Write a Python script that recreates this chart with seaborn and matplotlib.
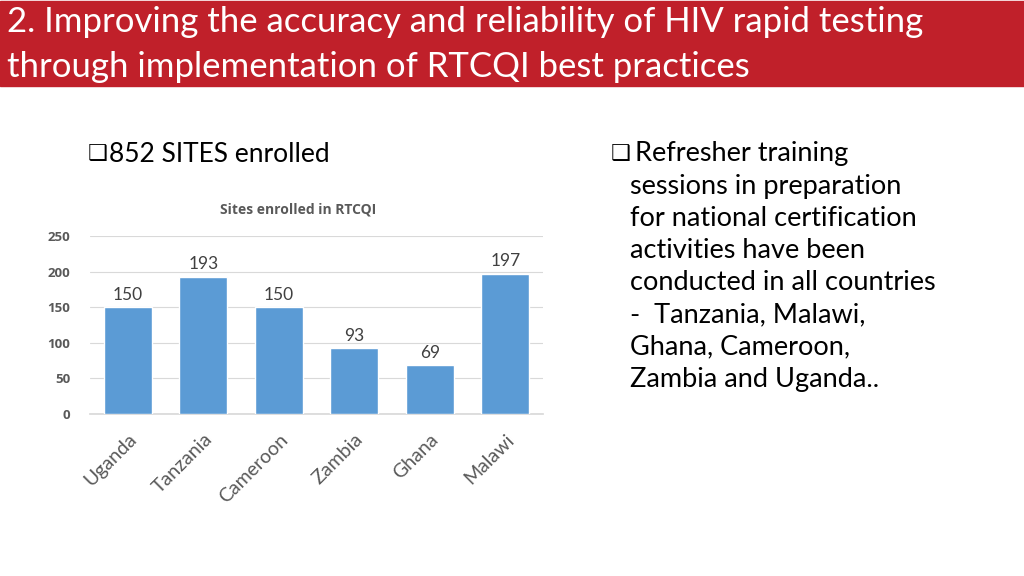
import matplotlib
matplotlib.use("Agg")
import pandas as pd
import seaborn as sns
from matplotlib import pyplot as plt
from matplotlib import font_manager

countries = ["Uganda", "Tanzania", "Cameroon", "Zambia", "Ghana", "Malawi"]
sites = [150, 193, 150, 93, 69, 197]
y_ticks = [0, 50, 100, 150, 200, 250]

title_lines = ["2. Improving the accuracy and reliability of HIV rapid testing",
               "through implementation of RTCQI best practices"]
left_bullet = "852 SITES enrolled"
chart_title = "Sites enrolled in RTCQI"
right_lines = ["Refresher training",
               "sessions in preparation",
               "for national certification",
               "activities have been",
               "conducted in all countries",
               "-  Tanzania, Malawi,",
               "Ghana, Cameroon,",
               "Zambia and Uganda.."]

sns.set_theme(style="white")
installed = {f.name for f in font_manager.fontManager.ttflist}
body_font = "Lato" if "Lato" in installed else "DejaVu Sans"
bold_font = "Open Sans" if "Open Sans" in installed else "DejaVu Sans"
plt.rcParams["font.family"] = [body_font, "DejaVu Sans"]

df = pd.DataFrame({"country": countries, "sites": sites})

fig = plt.figure(figsize=(10.24, 5.76), dpi=100)
W, H = 1024, 576

# red title banner
fig.patches.append(plt.Rectangle((0, 1 - 86 / H), 1, 85 / H, transform=fig.transFigure,
                                 color="#C0202A", zorder=0))
fig.text(7 / W, 1 - 22 / H, title_lines[0], color="white", fontsize=25,
         va="center", ha="left")
fig.text(7 / W, 1 - 67 / H, title_lines[1], color="white", fontsize=25,
         va="center", ha="left")

# bullet texts
fig.text(88 / W, 1 - 154 / H, "\u2751", fontsize=16, family=["DejaVu Sans"], va="center", color="black")
fig.text(109 / W, 1 - 154 / H, left_bullet, fontsize=19, va="center", color="black")

fig.text(611 / W, 1 - 154 / H, "\u2751", fontsize=16, family=["DejaVu Sans"], va="center", color="black")
fig.text(635 / W, 1 - 154 / H, right_lines[0], fontsize=19.5, va="center", color="black")
for i, line in enumerate(right_lines[1:]):
    fig.text(630 / W, 1 - (186 + 32.2 * i) / H, line, fontsize=19.5, va="center", color="black")

# chart
ax = fig.add_axes([90 / W, (H - 414) / H, 453 / W, 178 / H])
sns.barplot(data=df, x="country", y="sites", color="#5B9BD5", width=0.63,
            saturation=1, ax=ax, zorder=3)
ax.set_ylim(0, 250)
ax.set_yticks(y_ticks)
ax.set_xlim(-0.5, len(countries) - 0.5)
ax.grid(axis="y", color="#D9D9D9", linewidth=0.8, zorder=0)
ax.set_xlabel("")
ax.set_ylabel("")
for s in ["top", "right", "left"]:
    ax.spines[s].set_visible(False)
ax.spines["bottom"].set_color("#D9D9D9")
ax.tick_params(axis="both", length=0)
ax.set_yticklabels([str(t) for t in y_ticks], fontsize=9.5, fontweight="bold",
                   family=[bold_font, "DejaVu Sans"], color="#595959")
ax.tick_params(axis="y", pad=14)
ax.set_xticks(range(len(countries)))
ax.set_xticklabels(countries, rotation=45, ha="right", rotation_mode="anchor",
                   fontsize=14, color="#595959")
ax.tick_params(axis="x", pad=12)
for i, v in enumerate(sites):
    ax.text(i, v + 6, str(v), ha="center", va="bottom", fontsize=12.5, color="#404040")

fig.text(298 / W, 1 - 210 / H, chart_title, ha="center", va="center", fontsize=10,
         fontweight="bold", family=[bold_font, "DejaVu Sans"], color="#595959")

fig.savefig("out.png", dpi=100)
